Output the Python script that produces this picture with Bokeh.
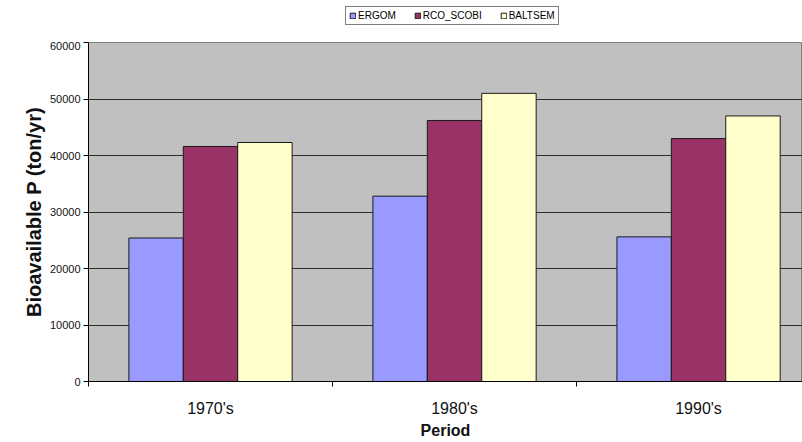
from bokeh.plotting import figure
from bokeh.layouts import column
from bokeh.models import ColumnDataSource, Range1d, FixedTicker, Legend, LegendItem
from bokeh.embed import file_html
from bokeh.resources import INLINE

# Bioavailable phosphorus load per decade, three models
periods = ["1970's", "1980's", "1990's"]
models = ["ERGOM", "RCO_SCOBI", "BALTSEM"]
ergom = [25400, 32800, 25600]
rco_scobi = [41600, 46200, 43000]
baltsem = [42300, 51000, 47000]
y_ticks = [0, 10000, 20000, 30000, 40000, 50000, 60000]

colors = ["#9999FF", "#993366", "#FFFFCC"]
series = [ergom, rco_scobi, baltsem]

bar_w = 0.223
offsets = [-bar_w, 0.0, bar_w]
centers = [i + 0.5 for i in range(len(periods))]

# ---- main chart ----
p = figure(width=802, height=400, output_backend="svg", toolbar_location=None,
           x_range=Range1d(0, 2.926), y_range=Range1d(0, 60000),
           min_border_left=88, min_border_right=0, min_border_top=1,
           min_border_bottom=59)
p.background_fill_color = "#C0C0C0"
p.border_fill_color = "white"
p.outline_line_color = "#808080"
p.outline_line_width = 1

for vals, col, off in zip(series, colors, offsets):
    src = ColumnDataSource(dict(x=[c + off for c in centers], top=vals))
    p.vbar(x="x", top="top", width=bar_w, bottom=0, source=src,
           fill_color=col, line_color="#1a1a1a", line_width=1)

p.xgrid.visible = False
p.ygrid.grid_line_color = "#2e2e2e"
p.ygrid.grid_line_width = 1
p.ygrid.ticker = FixedTicker(ticks=y_ticks[1:-1])

p.yaxis.ticker = FixedTicker(ticks=y_ticks, minor_ticks=[])
p.yaxis.axis_line_color = "black"
p.yaxis.major_tick_line_color = "black"
p.yaxis.major_tick_out = 5
p.yaxis.major_tick_in = 0
p.yaxis.minor_tick_line_color = None
p.yaxis.major_label_standoff = 3
p.yaxis.major_label_text_font = "Liberation Sans"
p.yaxis.major_label_text_font_size = "11px"
p.yaxis.major_label_text_color = "#111111"
p.yaxis.axis_label = "Bioavailable P (ton/yr)"
p.yaxis.axis_label_text_font = "Liberation Sans"
p.yaxis.axis_label_text_font_size = "20px"
p.yaxis.axis_label_text_font_style = "bold"
p.yaxis.axis_label_text_color = "#111111"
p.yaxis.axis_label_standoff = 2

# labels at category centres, tick marks between categories
p.xaxis.ticker = FixedTicker(ticks=centers, minor_ticks=[0, 1, 2, 3])
p.xaxis.major_label_overrides = {c: lab for c, lab in zip(centers, periods)}
p.xaxis.axis_line_color = "black"
p.xaxis.major_tick_line_color = None
p.xaxis.minor_tick_line_color = "black"
p.xaxis.minor_tick_out = 5
p.xaxis.minor_tick_in = 0
p.xaxis.major_label_standoff = 12
p.xaxis.major_label_text_font = "Liberation Sans"
p.xaxis.major_label_text_font_size = "16px"
p.xaxis.major_label_text_color = "#111111"
p.xaxis.axis_label = "Period"
p.xaxis.axis_label_text_font = "Liberation Sans"
p.xaxis.axis_label_text_font_size = "16px"
p.xaxis.axis_label_text_font_style = "bold"
p.xaxis.axis_label_text_color = "#111111"
p.xaxis.axis_label_standoff = 2

# ---- legend strip above the chart ----
lg = figure(width=802, height=41, output_backend="svg", toolbar_location=None,
            x_range=Range1d(0, 1), y_range=Range1d(0, 1),
            x_axis_type=None, y_axis_type=None, min_border=0)
lg.outline_line_color = None
lg.grid.visible = False
lg.background_fill_color = "white"
lg.border_fill_color = "white"

nan = float("nan")
items = []
for name, col in zip(models, colors):
    r = lg.vbar(x=[nan], top=[nan], width=0.1, fill_color=col, line_color="#1a1a1a")
    items.append(LegendItem(label=name, renderers=[r]))

legend = Legend(items=items, orientation="horizontal", location=(257, 16))
legend.label_text_font = "Liberation Sans"
legend.label_text_font_size = "10px"
legend.label_text_color = "black"
legend.glyph_width = 7
legend.glyph_height = 7
legend.label_standoff = 2
legend.spacing = 18
legend.padding = 3
legend.margin = 0
legend.label_height = 8
legend.border_line_color = "black"
legend.border_line_width = 1
legend.background_fill_color = "white"
legend.background_fill_alpha = 1
lg.add_layout(legend, "center")

layout = column(lg, p, spacing=0)
open("out.html", "w").write(file_html(layout, INLINE))
